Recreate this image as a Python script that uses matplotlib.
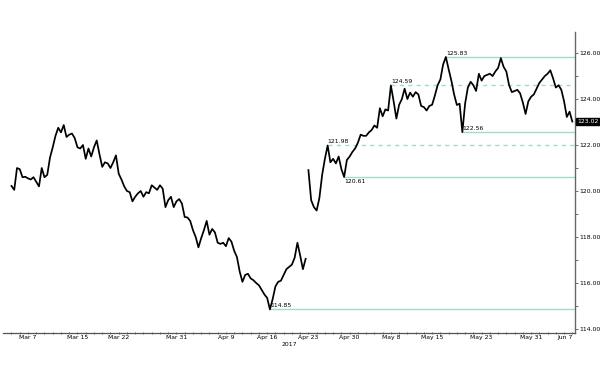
import matplotlib.pyplot as plt
import matplotlib.transforms as mtransforms
import numpy as np
import pandas as pd

# EUR/JPY, 3 readings per trading day, starting Fri Mar 3 2017
# the line breaks at the weekend gap of Apr 21 -> Apr 24
before_gap = [120.22, 120.05, 121.0, 120.95, 120.6, 120.62, 120.55, 120.5, 120.6, 120.4,
              120.2, 121.0, 120.6, 120.7, 121.45, 121.9, 122.4, 122.75, 122.55, 122.87,
              122.35, 122.45, 122.5, 122.3, 121.9, 121.85, 122.0, 121.4, 121.85, 121.5,
              121.9, 122.2, 121.6, 121.05, 121.25, 121.2, 121.0, 121.25, 121.55, 120.75,
              120.5, 120.2, 120.0, 119.95, 119.55, 119.75, 119.9, 120.0, 119.75, 119.95,
              119.9, 120.25, 120.15, 120.05, 120.25, 120.1, 119.3, 119.6, 119.75, 119.3,
              119.55, 119.65, 119.45, 118.87, 118.85, 118.7, 118.3, 118.0, 117.55, 117.95,
              118.3, 118.7, 118.1, 118.35, 118.2, 117.75, 117.7, 117.75, 117.6, 117.95,
              117.8, 117.4, 117.13, 116.5, 116.05, 116.35, 116.4, 116.2, 116.12, 116.0,
              115.9, 115.7, 115.5, 115.35, 114.85, 115.3, 115.85, 116.05, 116.1, 116.35,
              116.6, 116.7, 116.8, 117.1, 117.75, 117.2, 116.6, 117.05]
after_gap = [120.91, 119.6, 119.3, 119.15, 119.7, 120.7, 121.4, 121.98, 121.25, 121.4,
             121.2, 121.5, 120.95, 120.61, 121.35, 121.5, 121.7, 121.85, 122.1, 122.45,
             122.4, 122.4, 122.55, 122.65, 122.85, 122.75, 123.6, 123.25, 123.55, 123.5,
             124.59, 123.9, 123.15, 123.75, 124.0, 124.45, 124.0, 124.28, 124.1, 124.3,
             124.2, 123.7, 123.65, 123.5, 123.7, 123.75, 124.15, 124.6, 124.85, 125.5,
             125.83, 125.3, 124.8, 124.2, 123.74, 123.8, 122.56, 123.8, 124.5, 124.75,
             124.6, 124.35, 125.1, 124.8, 125.0, 125.05, 125.1, 125.0, 125.2, 125.35,
             125.78, 125.4, 125.2, 124.6, 124.3, 124.35, 124.4, 124.25, 123.85, 123.35,
             123.9, 124.1, 124.2, 124.45, 124.7, 124.85, 125.0, 125.1, 125.25, 124.9,
             124.5, 124.6, 124.4, 123.9, 123.22, 123.45, 123.02]

solid_levels = [125.83, 122.56, 120.61, 114.85]
dashed_levels = [124.59, 121.98]
label_below = [120.61]
last_price = 123.02

tick_dates = ['2017-03-07', '2017-03-15', '2017-03-22', '2017-03-31', '2017-04-09',
              '2017-04-16', '2017-04-23', '2017-04-30', '2017-05-08', '2017-05-15',
              '2017-05-23', '2017-05-31', '2017-06-07']
tick_labels = ['Mar 7', 'Mar 15', 'Mar 22', 'Mar 31', 'Apr 9', 'Apr 16', 'Apr 23',
               'Apr 30', 'May 8', 'May 15', 'May 23', 'May 31', 'Jun 7']

per_day = 3
bdays = pd.bdate_range('2017-03-03', '2017-06-09')
gap_day = bdays.searchsorted(pd.Timestamp('2017-04-24'))

x1 = np.arange(len(before_gap)) / per_day
x2 = gap_day + np.arange(len(after_gap)) / per_day
xs = np.concatenate([x1, x2])
ys = np.array(before_gap + after_gap)

level_color = '#a3dcc6'
fs = 4.4

fig = plt.figure(figsize=(6, 3.65), dpi=100)
ax = fig.add_axes([0.005, 0.088, 0.953, 0.824])

ax.plot(x1, before_gap, color='black', lw=1.25)
ax.plot(x2, after_gap, color='black', lw=1.25)

for lev in solid_levels + dashed_levels:
    start = xs[np.isclose(ys, lev)][0]
    ls = '-' if lev in solid_levels else (0, (3, 3))
    ax.plot([start, 69], [lev, lev], color=level_color, lw=1.0, ls=ls, zorder=1)
    if lev in label_below:
        ax.text(start, lev - 0.08, f'{lev:.2f}', fontsize=fs, va='top', ha='left')
    else:
        ax.text(start, lev + 0.05, f'{lev:.2f}', fontsize=fs, va='bottom', ha='left')

ax.set_xlim(-1.03, 68.3)
ax.set_ylim(113.83, 126.91)

tick_pos = [bdays.searchsorted(pd.Timestamp(d)) for d in tick_dates]
ax.set_xticks(tick_pos)
ax.set_xticklabels(tick_labels, fontsize=fs)
ax.get_xticklabels()[-1].set_ha('right')
ax.set_xticks(np.arange(0, 69), minor=True)

ax.yaxis.tick_right()
ax.set_yticks(np.arange(114, 127, 2))
ax.set_yticklabels([f'{v:.2f}' for v in np.arange(114, 127, 2)], fontsize=fs)
ax.set_yticks(np.arange(115, 127, 2), minor=True)

ax.tick_params(axis='x', which='both', length=2, width=0.6, direction='inout',
               color='#555555', pad=0.5)
ax.tick_params(axis='y', which='both', length=2, width=0.6, direction='out',
               color='#555555', pad=1)

for side in ['left', 'top']:
    ax.spines[side].set_visible(False)
ax.spines['bottom'].set_color('#555555')
ax.spines['right'].set_color('#666666')
ax.spines['bottom'].set_linewidth(0.9)
ax.spines['right'].set_linewidth(1.0)

ax.text(0.5, -0.037, '2017', transform=ax.transAxes, fontsize=fs,
        ha='center', va='center')

trans = mtransforms.blended_transform_factory(ax.transAxes, ax.transData)
ax.text(1.004, last_price, f'{last_price:.2f}', transform=trans, fontsize=fs,
        color='white', va='center', ha='left',
        bbox=dict(boxstyle='square,pad=0.2', fc='black', ec='black'))

fig.savefig('out.png', dpi=100, facecolor='white')
